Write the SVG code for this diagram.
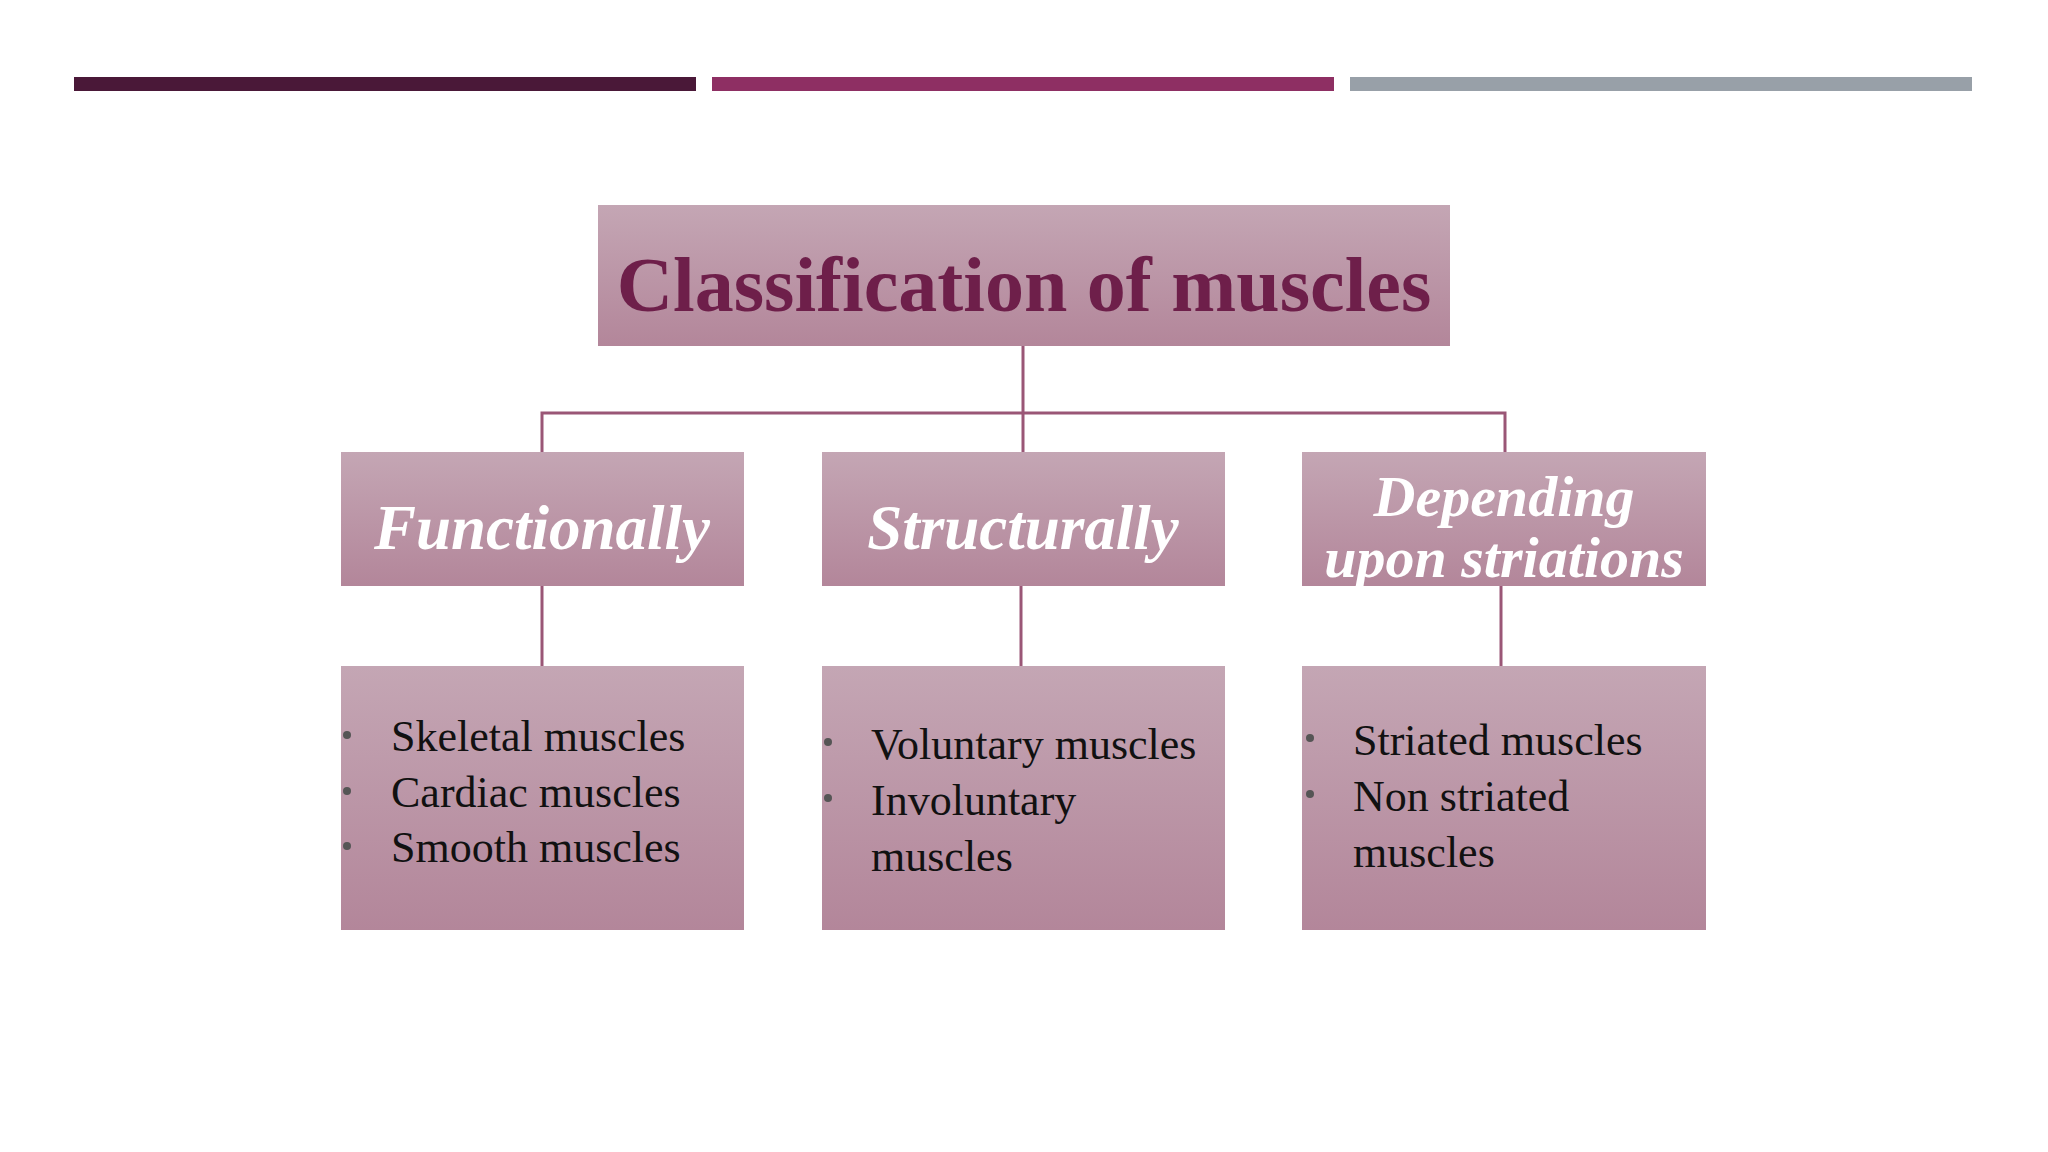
<svg xmlns="http://www.w3.org/2000/svg" width="2048" height="1152" viewBox="0 0 2048 1152">
<defs>
<linearGradient id="g" x1="0" y1="0" x2="0" y2="1"><stop offset="0" stop-color="#c4a6b4"/><stop offset="1" stop-color="#b3869a"/></linearGradient>
<style>
.box{fill:url(#g)}
.lvl2{font-family:"Liberation Serif",serif;font-weight:bold;font-style:italic;fill:#fff;text-anchor:middle}
.item{font-family:"Liberation Serif",serif;font-size:44px;fill:#111}
.dot{fill:#555}
.conn{stroke:#9a5676;stroke-width:3;fill:none}
</style>
</defs>
<rect width="2048" height="1152" fill="#fff"/>
<rect x="74" y="77" width="622" height="14" fill="#4a1838"/>
<rect x="712" y="77" width="622" height="14" fill="#8e2f63"/>
<rect x="1350" y="77" width="622" height="14" fill="#98a0a8"/>
<g id="connectors">
<path class="conn" d="M1023 346V413M542 452V413H1505V452M1023 413V452M542 586V666M1021 586V666M1501 586V666"/>
</g>
<g id="title"><rect class="box" x="598" y="205" width="852" height="141"/>
<text x="1024" y="311" text-anchor="middle" font-family="Liberation Serif,serif" font-weight="bold" font-size="78" fill="#6e1f4a">Classification of muscles</text></g>
<g id="functionally"><rect class="box" x="341" y="452" width="403" height="134"/><text class="lvl2" x="542" y="549" font-size="63">Functionally</text></g>
<g id="structurally"><rect class="box" x="822" y="452" width="403" height="134"/><text class="lvl2" x="1023" y="549" font-size="63">Structurally</text></g>
<g id="depending"><rect class="box" x="1302" y="452" width="404" height="134"/><text class="lvl2" x="1504" y="516" font-size="58">Depending</text><text class="lvl2" x="1504" y="577" font-size="58">upon striations</text></g>
<g id="list1"><rect class="box" x="341" y="666" width="403" height="264"/>
<circle class="dot" cx="347" cy="735" r="4"/><circle class="dot" cx="347" cy="791" r="4"/><circle class="dot" cx="347" cy="846" r="4"/>
<text class="item" x="391" y="751">Skeletal muscles</text><text class="item" x="391" y="807">Cardiac muscles</text><text class="item" x="391" y="862">Smooth muscles</text></g>
<g id="list2"><rect class="box" x="822" y="666" width="403" height="264"/>
<circle class="dot" cx="828" cy="742" r="4"/><circle class="dot" cx="828" cy="798" r="4"/>
<text class="item" x="871" y="759">Voluntary muscles</text><text class="item" x="871" y="815">Involuntary</text><text class="item" x="871" y="871">muscles</text></g>
<g id="list3"><rect class="box" x="1302" y="666" width="404" height="264"/>
<circle class="dot" cx="1310" cy="738" r="4"/><circle class="dot" cx="1310" cy="794" r="4"/>
<text class="item" x="1353" y="755">Striated muscles</text><text class="item" x="1353" y="811">Non striated</text><text class="item" x="1353" y="867">muscles</text></g>
</svg>
